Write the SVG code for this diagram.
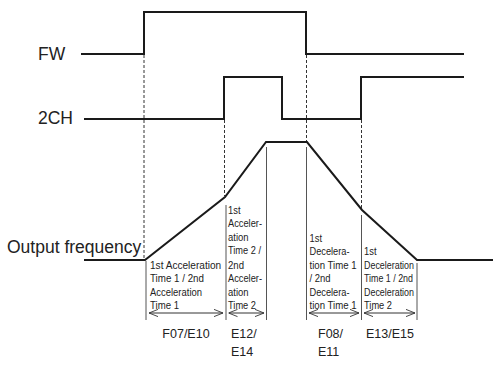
<svg xmlns="http://www.w3.org/2000/svg" width="496" height="365" viewBox="0 0 496 365">
<defs>
<style>
.sig{fill:none;stroke:#1a1a1a;stroke-width:2;stroke-linejoin:miter}
.dash{fill:none;stroke:#333;stroke-width:1;stroke-dasharray:3 2}
.vl{fill:none;stroke:#555;stroke-width:1}
.arr{fill:none;stroke:#333;stroke-width:1}
.lbl{font-family:"Liberation Sans",Arial,sans-serif;font-size:17.5px;fill:#222}
.nar{font-family:"Liberation Sans",Arial,sans-serif;font-size:11.6px;fill:#222}
.code{font-family:"Liberation Sans",Arial,sans-serif;font-size:12.5px;fill:#222}
</style>
<marker id="ah" viewBox="0 0 10 10" refX="10" refY="5" markerWidth="9" markerHeight="9" markerUnits="userSpaceOnUse" orient="auto-start-reverse">
<path d="M0,1 L10,5 L0,9" fill="none" stroke="#333" stroke-width="1"/>
</marker>
</defs>
<rect width="496" height="365" fill="#fff"/>

<g id="labels">
<text class="lbl" x="38" y="60">FW</text>
<text class="lbl" x="38" y="124">2CH</text>
<text class="lbl" x="7" y="253">Output frequency</text>
</g>

<g id="connectors">
<path class="sig" d="M81,54 H144 V12 H306 V54 H464"/>
<path class="sig" d="M84,119 H224 V77 H282 V119 H361 V77 H464"/>
<path class="sig" d="M84,260 H145 L225,197 L266,142 H307 L362,210 L417,260 H493"/>
<path class="dash" d="M144,55 V258 M224.5,120 V196 M306.5,55 V141 M361.5,120 V208"/>
<path class="vl" d="M146,261 V320 M226,205 V320 M266.5,147 V320 M306.5,147 V320 M361.5,215 V320 M417,263 V320"/>
<path class="arr" d="M149,313 H223" marker-start="url(#ah)" marker-end="url(#ah)"/>
<path class="arr" d="M228.5,313 H264" marker-start="url(#ah)" marker-end="url(#ah)"/>
<path class="arr" d="M309,313 H359" marker-start="url(#ah)" marker-end="url(#ah)"/>
<path class="arr" d="M364,313 H415" marker-start="url(#ah)" marker-end="url(#ah)"/>
</g>

<g id="seg1">
<text class="nar" transform="translate(150,268.5) scale(0.87,1)" x="0" y="0">1st Acceleration</text>
<text class="nar" x="150" y="282" textLength="54" lengthAdjust="spacingAndGlyphs">Time 1 / 2nd</text>
<text class="nar" x="150" y="295.5" textLength="52" lengthAdjust="spacingAndGlyphs">Acceleration</text>
<text class="nar" x="150" y="309" textLength="29" lengthAdjust="spacingAndGlyphs">Time 1</text>
</g>
<g id="seg2">
<text class="nar" x="228" y="213.5" textLength="12.5" lengthAdjust="spacingAndGlyphs">1st</text>
<text class="nar" x="228" y="227" textLength="34" lengthAdjust="spacingAndGlyphs">Acceler-</text>
<text class="nar" x="228" y="240.5" textLength="20.5" lengthAdjust="spacingAndGlyphs">ation</text>
<text class="nar" x="228" y="254" textLength="33" lengthAdjust="spacingAndGlyphs">Time 2 /</text>
<text class="nar" x="228" y="268.5" textLength="16" lengthAdjust="spacingAndGlyphs">2nd</text>
<text class="nar" x="228" y="282" textLength="34" lengthAdjust="spacingAndGlyphs">Acceler-</text>
<text class="nar" x="228" y="295.5" textLength="20.5" lengthAdjust="spacingAndGlyphs">ation</text>
<text class="nar" x="228" y="309" textLength="28" lengthAdjust="spacingAndGlyphs">Time 2</text>
</g>
<g id="seg3">
<text class="nar" x="309.5" y="241.5" textLength="12.5" lengthAdjust="spacingAndGlyphs">1st</text>
<text class="nar" x="309.5" y="255" textLength="40" lengthAdjust="spacingAndGlyphs">Decelera-</text>
<text class="nar" x="309.5" y="268.5" textLength="47" lengthAdjust="spacingAndGlyphs">tion Time 1</text>
<text class="nar" x="309.5" y="282" textLength="21" lengthAdjust="spacingAndGlyphs">/ 2nd</text>
<text class="nar" x="309.5" y="295.5" textLength="40" lengthAdjust="spacingAndGlyphs">Decelera-</text>
<text class="nar" x="309.5" y="309" textLength="47" lengthAdjust="spacingAndGlyphs">tion Time 1</text>
</g>
<g id="seg4">
<text class="nar" x="364" y="255" textLength="12.5" lengthAdjust="spacingAndGlyphs">1st</text>
<text class="nar" x="364" y="268.5" textLength="50" lengthAdjust="spacingAndGlyphs">Deceleration</text>
<text class="nar" x="364" y="282" textLength="49" lengthAdjust="spacingAndGlyphs">Time 1 / 2nd</text>
<text class="nar" x="364" y="295.5" textLength="50" lengthAdjust="spacingAndGlyphs">Deceleration</text>
<text class="nar" x="364" y="309" textLength="28" lengthAdjust="spacingAndGlyphs">Time 2</text>
</g>

<g id="codes">
<text class="code" x="186" y="338" text-anchor="middle">F07/E10</text>
<text class="code" x="231" y="338">E12/</text>
<text class="code" x="231" y="356">E14</text>
<text class="code" x="318" y="338">F08/</text>
<text class="code" x="318" y="356">E11</text>
<text class="code" x="390" y="338" text-anchor="middle">E13/E15</text>
</g>
</svg>
